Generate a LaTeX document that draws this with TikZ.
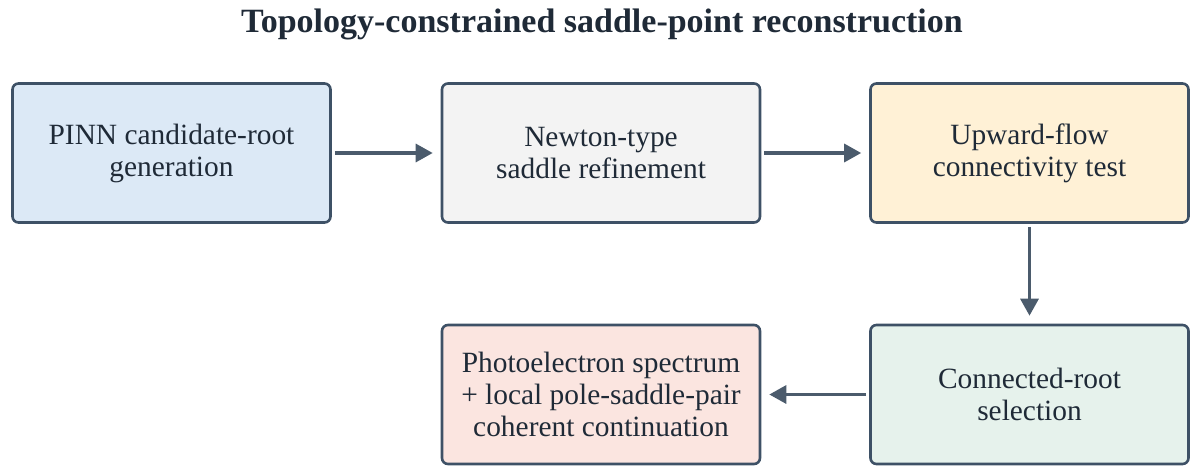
\documentclass[tikz,border=0pt]{standalone}
\usepackage{fontspec}
\setmainfont{Liberation Serif}
\usetikzlibrary{arrows.meta}
\definecolor{bordc}{HTML}{3E5166}
\definecolor{arrc}{HTML}{4B5B6C}
\definecolor{txtc}{HTML}{1F2A37}
\definecolor{fblue}{HTML}{DCE9F6}
\definecolor{fgray}{HTML}{F3F3F3}
\definecolor{fyel}{HTML}{FFF1D6}
\definecolor{fgrn}{HTML}{E6F2EC}
\definecolor{fpink}{HTML}{FBE5E0}
\begin{document}
\begin{tikzpicture}[x=1pt,y=1pt,
  stagebox/.style={draw=bordc, line width=2.6pt, rounded corners=6pt,
    minimum width=318pt, minimum height=139pt, inner sep=0pt,
    align=center, text=txtc,
    font=\fontsize{29.4}{32}\selectfont},
  flow/.style={draw=arrc, line width=3.2pt,
    -{Triangle[length=17pt,width=18pt]},
    shorten <=3pt, shorten >=8pt}]
\useasboundingbox (0,0) rectangle (1201,-476);
\node[anchor=base, text=txtc, font=\fontsize{34}{38}\selectfont\bfseries] (title) at (602,-33) {Topology-constrained saddle-point reconstruction};
\node[stagebox, fill=fblue] (b1) at (171.5,-153) {PINN candidate-root\\generation};
\node[stagebox, fill=fgray] (b2) at (601,-153) {Newton-type\\saddle refinement};
\node[stagebox, fill=fyel] (b3) at (1029.5,-153) {Upward-flow\\connectivity test};
\node[stagebox, fill=fgrn] (b4) at (1029.5,-394.5) {Connected-root\\selection};
\node[stagebox, fill=fpink] (b5) at (601,-394.5) {Photoelectron spectrum\\+ local pole-saddle-pair\\coherent continuation};
\draw[flow] (b1) -- (b2);
\draw[flow] (b2) -- (b3);
\draw[flow] (b3) -- (b4);
\draw[flow] (b4) -- (b5);
\end{tikzpicture}
\end{document}
